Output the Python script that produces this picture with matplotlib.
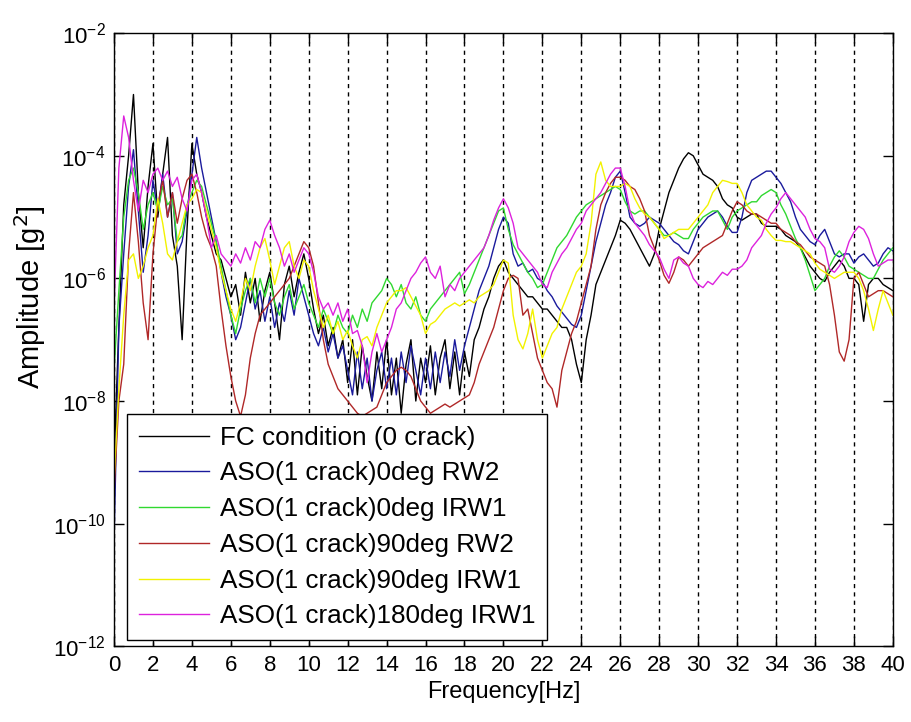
import numpy as np
import matplotlib
matplotlib.use("Agg")
import matplotlib.pyplot as plt

plt.rcParams['font.family'] = ['Liberation Sans', 'DejaVu Sans']

# frequency grid [Hz], 0.25 Hz steps
freq = np.linspace(0, 40, 161)

# log10 of amplitude [g^2], 8 points per 2 Hz
fc_0crack = [
    -9.0, -6.8, -4.8, -4.0, -3.0, -4.6, -5.5, -4.5,
    -3.8, -5.0, -4.3, -3.7, -5.3, -5.8, -7.0, -5.2,
    -3.8, -4.3, -4.6, -5.0, -5.3, -5.6, -5.7, -6.0,
    -6.3, -6.1, -6.6, -5.9, -6.4, -6.0, -6.7, -6.2,
    -5.9, -6.4, -7.0, -6.1, -5.8, -6.3, -5.9, -5.6,
    -6.0, -6.5, -6.9, -6.6, -7.1, -6.8, -7.3, -7.0,
    -7.7, -7.0, -7.9, -7.1, -7.6, -8.0, -7.2, -7.8,
    -7.0, -7.9, -7.3, -8.2, -7.4, -7.0, -8.0, -7.3,
    -7.7, -7.1, -7.9, -7.3, -7.0, -7.8, -7.2, -7.9,
    -7.2, -7.6, -7.0, -6.8, -6.5, -6.3, -6.0, -5.8,
    -5.7, -5.9, -6.0, -6.1, -6.2, -6.3, -6.3, -6.4,
    -6.5, -6.5, -6.6, -6.7, -6.8, -6.8, -7.0, -7.4,
    -7.7, -7.0, -6.6, -6.1, -5.9, -5.7, -5.5, -5.3,
    -5.05, -5.1, -5.2, -5.35, -5.5, -5.65, -5.8, -5.6,
    -5.2, -4.9, -4.6, -4.4, -4.2, -4.05, -3.95, -4.0,
    -4.15, -4.3, -4.35, -4.4, -4.5, -4.7, -4.8, -4.85,
    -5.0, -5.05, -5.0, -4.95, -4.95, -5.1, -5.15, -5.15,
    -5.15, -5.2, -5.3, -5.35, -5.4, -5.5, -5.65, -5.8,
    -5.9, -6.0, -6.05, -5.9, -5.8, -5.7, -5.8, -6.0,
    -6.0, -6.1, -6.7, -6.1, -6.0, -6.0, -6.1, -6.15, -6.2,
]

aso_0deg_rw2 = [
    -10.3, -6.8, -5.6, -4.5, -3.9, -4.9, -5.9, -5.3,
    -4.4, -4.9, -4.3, -5.0, -4.6, -5.6, -5.4, -4.9,
    -4.3, -3.7, -4.2, -4.6, -5.0, -5.4, -5.9, -6.3,
    -6.6, -7.0, -6.8, -6.4, -6.0, -6.5, -6.2, -6.7,
    -6.3, -6.8, -6.4, -6.7, -6.2, -6.6, -6.0, -6.3,
    -6.6, -6.9, -7.1, -6.8, -7.2, -6.9, -7.3, -7.1,
    -7.5, -7.9, -7.2, -7.8, -7.3, -8.0, -7.5, -7.2,
    -7.8, -7.3, -7.9, -7.2, -7.7, -7.1, -7.5, -7.9,
    -7.3, -7.8, -7.2, -7.7, -7.2, -7.6, -7.0, -7.5,
    -7.1, -6.8, -6.5, -6.2, -6.0, -5.8, -5.5, -5.2,
    -5.0, -5.1, -5.6, -5.8, -5.75, -5.9, -5.85, -6.0,
    -6.05, -6.2, -6.3, -6.45, -6.55, -6.65, -6.75, -6.8,
    -6.6, -6.2, -5.8, -5.4, -5.1, -4.8, -4.6, -4.35,
    -4.25, -4.6, -5.0, -5.1, -5.15, -5.1, -5.0, -5.05,
    -5.1, -5.2, -5.3, -5.4, -5.45, -5.55, -5.6, -5.4,
    -5.2, -5.1, -5.0, -4.95, -4.9, -5.0, -5.15, -5.25,
    -5.25, -5.0, -4.6, -4.4, -4.35, -4.3, -4.25, -4.25,
    -4.35, -4.45, -4.6, -4.75, -5.0, -5.2, -5.3, -5.4,
    -5.45, -5.3, -5.2, -5.4, -5.6, -5.65, -5.6, -5.6,
    -5.75, -5.65, -5.6, -5.7, -5.8, -5.75, -5.6, -5.5, -5.55,
]

aso_0deg_irw1 = [
    -7.5, -6.2, -5.0, -4.4, -4.2, -4.6, -5.2, -4.8,
    -4.6, -4.9, -4.5, -4.8, -4.7, -5.4, -5.3, -4.8,
    -4.6, -4.4, -4.5, -4.8, -5.1, -5.4, -5.8, -6.2,
    -6.6, -6.9, -6.5, -6.2, -6.0, -6.4, -6.0, -6.3,
    -6.0, -6.4, -6.6, -6.3, -6.1, -6.5, -6.3, -6.1,
    -6.4, -6.6, -6.8, -6.5, -6.7, -6.9, -6.6, -6.8,
    -6.9, -6.6, -6.8, -6.5, -6.7, -6.4, -6.3, -6.2,
    -6.0, -6.1, -6.3, -6.1, -6.4, -6.5, -6.3, -6.6,
    -6.7, -6.5, -6.4, -6.3, -6.2, -6.1, -6.0, -5.9,
    -6.25, -6.1, -5.9, -5.7, -5.5, -5.3, -5.1, -4.9,
    -4.85, -5.2, -5.45, -5.6, -5.75, -5.9, -6.0, -6.15,
    -6.1, -5.9, -5.7, -5.5, -5.4, -5.3, -5.15, -5.0,
    -4.9, -4.8, -4.75, -4.7, -4.65, -4.6, -4.55, -4.5,
    -4.55, -4.75, -4.9, -4.95, -4.9, -4.9, -5.0, -5.1,
    -5.2, -5.3, -5.3, -5.25, -5.3, -5.35, -5.35, -5.2,
    -5.1, -5.0, -4.95, -4.9, -4.9, -5.05, -5.2, -5.0,
    -4.9, -4.85, -4.8, -4.75, -4.75, -4.65, -4.6, -4.55,
    -4.6, -4.8, -4.95, -5.15, -5.35, -5.5, -5.7, -5.95,
    -6.2, -6.1, -6.0, -5.8, -5.65, -5.55, -5.65, -5.8,
    -5.85, -5.9, -5.95, -6.0, -6.0, -5.85, -5.7, -5.6, -5.5,
]

aso_90deg_rw2 = [
    -9.5, -8.0, -7.4, -5.6, -4.6, -5.4, -6.4, -7.0,
    -5.6, -4.8, -4.4, -5.0, -4.6, -5.1, -4.7, -4.4,
    -4.3, -4.6, -5.0, -5.3, -5.5, -5.8, -6.5, -7.1,
    -7.6, -8.0, -8.25, -7.9, -7.3, -6.9, -6.6, -6.5,
    -6.4, -6.3, -6.2, -6.1, -6.0, -5.8, -5.6, -5.4,
    -5.5, -5.8, -6.4, -7.0, -7.4, -7.6, -7.8, -7.9,
    -8.0, -8.1, -8.2, -8.25, -8.2, -8.15, -8.1, -7.9,
    -7.7, -7.6, -7.5, -7.45, -7.5, -7.6, -7.8, -8.0,
    -8.1, -8.2, -8.15, -8.1, -8.05, -8.1, -8.05, -8.0,
    -7.95, -7.9, -7.7, -7.4, -7.2, -7.0, -6.8, -6.5,
    -6.2, -6.0, -5.95, -6.0, -6.6, -6.5, -6.9, -7.3,
    -7.5, -7.7, -7.8, -8.1, -7.5, -7.2, -6.9, -6.7,
    -6.4, -6.1, -5.8, -5.2, -4.8, -4.6, -4.45, -4.35,
    -4.35, -4.4, -4.5, -4.55, -4.7, -4.9, -5.3, -5.5,
    -5.7, -5.95, -6.08, -5.9, -5.65, -5.7, -5.8, -5.7,
    -5.6, -5.5, -5.45, -5.4, -5.35, -5.3, -5.1, -4.9,
    -4.75, -4.8, -4.9, -4.95, -4.95, -5.0, -5.05, -5.1,
    -5.1, -5.2, -5.25, -5.3, -5.4, -5.45, -5.55, -5.65,
    -5.7, -5.75, -5.8, -6.1, -6.6, -7.2, -7.35, -7.0,
    -6.0, -5.9, -6.1, -6.3, -6.25, -6.2, -6.2, -6.25, -6.3,
]

aso_90deg_irw1 = [
    -9.3, -7.8, -6.6, -5.7, -5.6, -6.0, -5.8, -5.5,
    -5.3, -4.7, -5.1, -5.6, -5.7, -5.4, -5.1, -4.8,
    -4.7, -4.55, -4.6, -4.9, -5.2, -5.5, -5.9, -6.2,
    -6.5, -6.7, -6.4, -6.0, -6.2, -5.8, -5.5, -5.35,
    -5.7, -6.1, -5.8, -5.5, -5.4, -5.8, -6.0, -5.7,
    -5.8, -6.2, -6.5, -6.8, -6.6, -6.9, -6.7, -7.0,
    -6.85, -7.1, -7.3, -7.0, -6.95, -7.1, -6.8, -6.6,
    -6.4, -6.3, -6.2, -6.2, -6.15, -6.3, -6.45, -6.6,
    -6.9, -6.75, -6.7, -6.6, -6.5, -6.45, -6.4, -6.45,
    -6.4, -6.35, -6.4, -6.3, -6.25, -6.2, -6.1, -5.9,
    -5.7, -5.75, -6.6, -7.0, -7.15, -6.9, -6.5, -7.0,
    -7.3, -7.1, -6.9, -6.8, -6.5, -6.3, -6.1, -5.9,
    -5.8, -5.6, -5.1, -4.3, -4.1, -4.4, -4.5, -4.5,
    -4.5, -4.45, -4.5, -4.7, -4.85, -4.95, -5.0, -5.1,
    -5.2, -5.35, -5.3, -5.25, -5.2, -5.2, -5.2, -5.1,
    -5.0, -4.9, -4.8, -4.6, -4.5, -4.4, -4.42, -4.45,
    -4.45, -4.6, -4.8, -4.9, -5.0, -5.05, -5.2, -5.3,
    -5.38, -5.38, -5.4, -5.4, -5.45, -5.5, -5.55, -5.6,
    -5.75, -5.85, -5.9, -5.95, -6.0, -5.95, -5.9, -5.9,
    -5.9, -6.0, -6.2, -6.5, -6.85, -6.5, -6.2, -6.4, -6.6,
]

aso_180deg_irw1 = [
    -6.5, -4.2, -3.35, -3.7, -4.4, -4.9, -4.4, -4.6,
    -4.3, -4.2, -4.4, -4.25, -4.5, -4.35, -4.7, -4.9,
    -4.4, -4.3, -4.6, -5.0, -5.5, -5.3, -5.6, -5.7,
    -5.8, -5.6, -5.75, -5.5, -5.7, -5.4, -5.5, -5.2,
    -5.05, -5.3, -5.5, -5.8, -5.6, -5.9, -5.7, -5.5,
    -5.6, -5.9, -6.3, -6.5, -6.4, -6.6, -6.4, -6.7,
    -6.5, -6.9, -6.85, -7.1, -7.7, -7.2, -6.9, -7.2,
    -7.0, -6.8, -6.5, -6.4, -6.2, -6.0, -5.9, -5.75,
    -5.65, -5.9, -6.0, -5.8, -6.3, -6.1, -6.2, -6.0,
    -5.9, -5.8, -5.7, -5.6, -5.5, -5.3, -5.05, -4.85,
    -4.7, -4.85, -5.1, -5.5, -5.6, -5.7, -5.8, -5.9,
    -6.1, -6.15, -5.9, -5.75, -5.6, -5.5, -5.35, -5.2,
    -5.1, -4.9, -4.8, -4.7, -4.6, -4.45, -4.3, -4.2,
    -4.2, -4.5, -4.9, -5.1, -5.2, -5.3, -5.45, -5.55,
    -5.65, -5.85, -6.0, -5.7, -5.65, -5.75, -5.8, -6.0,
    -6.1, -6.15, -6.05, -6.1, -6.0, -5.9, -5.95, -5.85,
    -5.85, -5.8, -5.7, -5.5, -5.4, -5.3, -5.1, -4.95,
    -4.85, -4.7, -4.6, -4.7, -4.8, -4.9, -5.0, -5.2,
    -5.35, -5.4, -5.5, -5.85, -5.9, -5.8, -5.65, -5.4,
    -5.25, -5.15, -5.2, -5.35, -5.6, -5.8, -5.75, -5.7, -5.7,
]

labels = ['FC condition (0 crack)', 'ASO(1 crack)0deg RW2', 'ASO(1 crack)0deg IRW1',
          'ASO(1 crack)90deg RW2', 'ASO(1 crack)90deg IRW1', 'ASO(1 crack)180deg IRW1']
series = [fc_0crack, aso_0deg_rw2, aso_0deg_irw1, aso_90deg_rw2, aso_90deg_irw1, aso_180deg_irw1]
colors = ['k', '#1a1a9c', '#30d830', '#b02828', '#f2f200', '#dd22dd']

fig = plt.figure(figsize=(9.12, 7.22), dpi=100)
ax = fig.add_axes([0.125, 0.105, 0.854, 0.849])

for vals, lab, col in zip(series, labels, colors):
    ax.plot(freq, 10.0 ** np.array(vals), color=col, lw=1.0, label=lab)

ax.set_yscale('log')
ax.set_xlim(0, 40)
ax.set_ylim(1e-12, 1e-2)
ax.set_xticks(np.arange(0, 41, 2))
ax.set_yticks([1e-12, 1e-10, 1e-8, 1e-6, 1e-4, 1e-2])
ax.yaxis.set_minor_locator(matplotlib.ticker.NullLocator())

# dashed vertical grid only
ax.xaxis.grid(True, color='k', linestyle=(0, (3, 3)), lw=1.0)
ax.set_axisbelow(True)

ax.tick_params(direction='in', top=True, right=True, length=7, width=1,
               labelsize=16, pad=6)
for sp in ax.spines.values():
    sp.set_linewidth(1.0)

ax.set_xlabel('Frequency[Hz]', fontsize=17, labelpad=4)
ax.set_ylabel('Amplitude [g$^2$]', fontsize=21, labelpad=6)
ax.yaxis.set_label_coords(-0.085, 0.57)

leg = ax.legend(loc='lower left', bbox_to_anchor=(0.0167, 0.0098), borderaxespad=0,
                fontsize=18.8, fancybox=False, framealpha=1, edgecolor='k',
                handlelength=2.7, handletextpad=0.4, labelspacing=0.45,
                borderpad=0.45)
leg.get_frame().set_linewidth(1.0)

fig.savefig('out.png', dpi=100)
